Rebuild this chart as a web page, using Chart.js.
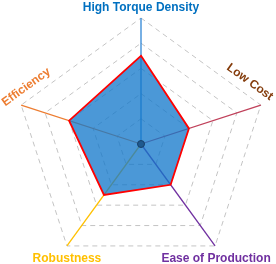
<!DOCTYPE html>
<html>
<head>
<meta charset="utf-8">
<script src="https://cdn.jsdelivr.net/npm/chart.js@4.4.1/dist/chart.umd.min.js"></script>
<style>
  html, body { margin: 0; padding: 0; background: #fff; overflow: hidden; }
  #wrap { position: absolute; left: 0; top: 0; width: 276px; height: 276px; }
</style>
</head>
<body>
<div id="wrap"><canvas id="radar"></canvas></div>
<script>
const labels = ['High Torque Density', 'Low Cost', 'Ease of Production', 'Robustness', 'Efficiency'];
const scores = [3.5, 2, 2, 2.5, 3];
const scaleMax = 5;

// cores por eixo (linha do eixo e texto)
const axisColors = ['#2f86d6', '#c0405a', '#7030a0', '#ffc000', '#ed7d31'];
const labelColors = ['#0070c0', '#843c0c', '#7030a0', '#ffc000', '#ed7d31'];

// posição/rotação dos rótulos relativos ao vértice externo
const labelOffsets = [[0, -10], [-11, -23], [1, 13], [0, 13], [5, -18]];
const labelRotation = [0, 36, 0, 0, -36];

const axisLabelsPlugin = {
    id: 'axisLabels',
    afterDraw(chart) {
        const scale = chart.scales.r;
        const ctx = chart.ctx;
        ctx.save();
        ctx.font = 'bold 12px "Liberation Sans", Arial, sans-serif';
        ctx.textAlign = 'center';
        ctx.textBaseline = 'middle';
        labels.forEach((text, i) => {
            const p = scale.getPointPosition(i, scale.drawingArea);
            ctx.save();
            ctx.translate(p.x + labelOffsets[i][0], p.y + labelOffsets[i][1]);
            ctx.rotate(labelRotation[i] * Math.PI / 180);
            ctx.fillStyle = labelColors[i];
            ctx.fillText(text, 0, 0);
            ctx.restore();
        });
        // ponto central
        ctx.beginPath();
        ctx.arc(scale.xCenter, scale.yCenter, 3.5, 0, Math.PI * 2);
        ctx.fillStyle = '#1f5a8f';
        ctx.fill();
        ctx.lineWidth = 1;
        ctx.strokeStyle = '#17406a';
        ctx.stroke();
        ctx.restore();
    }
};

new Chart(document.getElementById('radar'), {
    type: 'radar',
    data: {
        labels: labels,
        datasets: [{
            data: scores,
            backgroundColor: 'rgba(18, 120, 202, 0.76)',
            borderColor: '#ff0000',
            borderWidth: 1.8,
            pointRadius: 0,
            fill: true
        }]
    },
    options: {
        responsive: true,
        maintainAspectRatio: false,
        animation: false,
        layout: { padding: { left: 15, right: 9, top: 18, bottom: 6 } },
        plugins: { legend: { display: false }, tooltip: { enabled: false } },
        scales: {
            r: {
                min: 0,
                max: scaleMax,
                ticks: { display: false, stepSize: 1 },
                pointLabels: { display: false },
                grid: {
                    circular: false,
                    color: '#c4c4c4',
                    lineWidth: 1
                },
                border: { dash: [5, 4] },
                angleLines: {
                    display: true,
                    color: (ctx) => axisColors[ctx.index],
                    lineWidth: 1.3
                }
            }
        }
    },
    plugins: [axisLabelsPlugin]
});
</script>
</body>
</html>
